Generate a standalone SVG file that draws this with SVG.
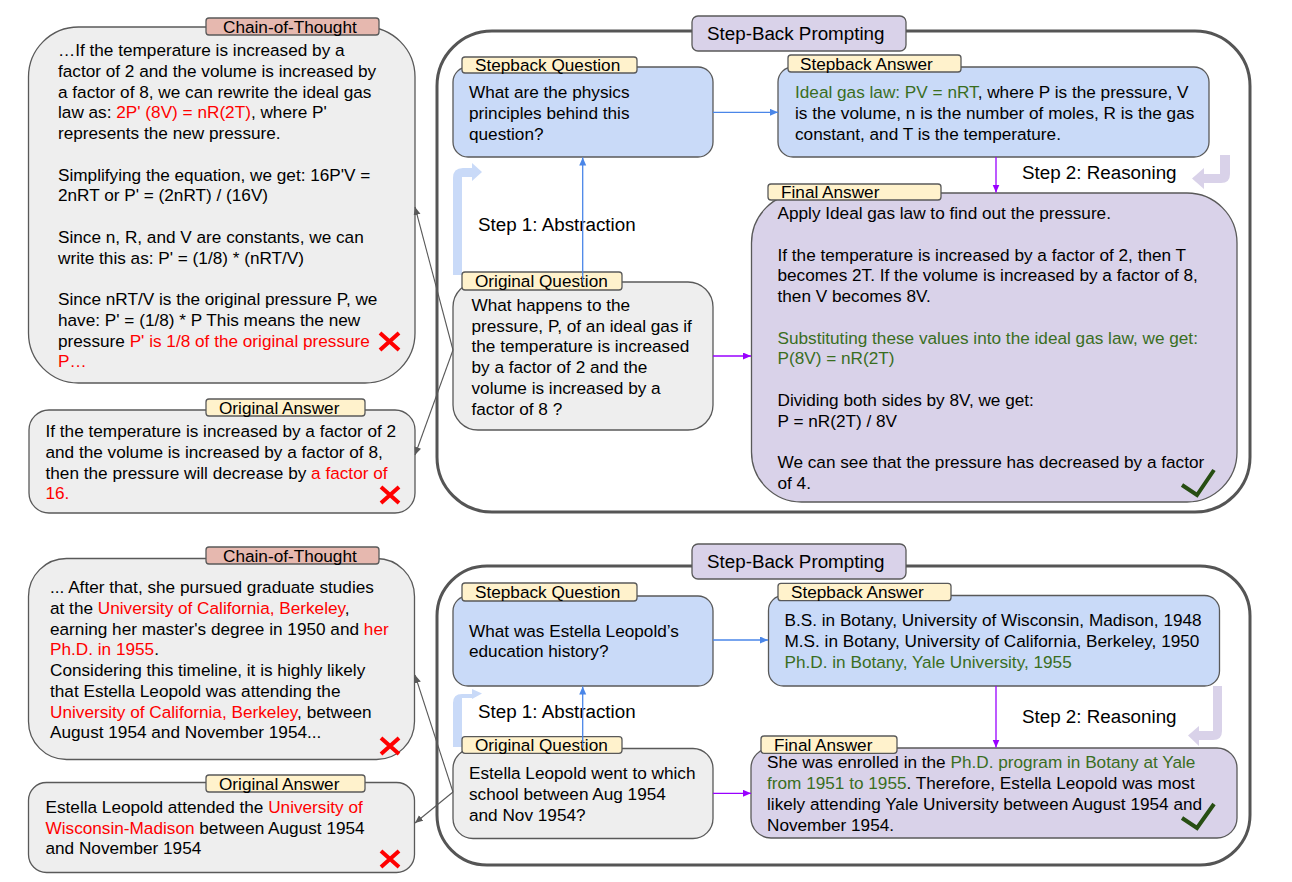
<svg xmlns="http://www.w3.org/2000/svg" width="1292" height="882" viewBox="0 0 1292 882">
<defs>
<style>
text{font-family:"Liberation Sans",Arial,sans-serif;font-size:17.2px;fill:#000}
.big{font-size:18.8px}
.r{fill:#ff0000}
.g{fill:#3a6e1f}
.grey{fill:#eeeeee;stroke:#595959;stroke-width:1.3}
.blue{fill:#c9daf8;stroke:#595959;stroke-width:1.3}
.purp{fill:#d9d2e9;stroke:#595959;stroke-width:1.3}
.lab{fill:#fff2cc;stroke:#595959;stroke-width:1.3}
.cotlab{fill:#e6b8af;stroke:#595959;stroke-width:1.3}
.outer{fill:#ffffff;stroke:#555555;stroke-width:3}
.xm{stroke:#ff0000;stroke-width:4;fill:none}
.ck{stroke:#274e13;stroke-width:4;fill:none}
.cb{stroke:#4a86e8;stroke-width:1.3;fill:none}
.cp{stroke:#9900ff;stroke-width:1.3;fill:none}
.cg{stroke:#595959;stroke-width:1.1;fill:none}
</style>
<marker id="mb" markerUnits="userSpaceOnUse" markerWidth="9" markerHeight="8" refX="8" refY="3.5" orient="auto"><path d="M0,0 L8,3.5 L0,7 z" fill="#4a86e8"/></marker>
<marker id="mp" markerUnits="userSpaceOnUse" markerWidth="9" markerHeight="8" refX="8" refY="3.5" orient="auto"><path d="M0,0 L8,3.5 L0,7 z" fill="#9900ff"/></marker>
<marker id="mg" markerUnits="userSpaceOnUse" markerWidth="9" markerHeight="8" refX="8" refY="3.5" orient="auto"><path d="M0,0 L8,3.5 L0,7 z" fill="#595959"/></marker>
</defs>
<rect width="1292" height="882" fill="#ffffff"/>

<!-- ===== TOP ===== -->
<g id="sbp-top">
<rect class="outer" x="437" y="31" width="813" height="481" rx="55"/>
<rect class="purp" x="692" y="16" width="214" height="35" rx="6"/>
<text class="big" x="707" y="40">Step-Back Prompting</text>
</g>

<g id="cot-top">
<rect class="grey" x="28.5" y="27" width="386.5" height="356" rx="50"/>
<rect class="cotlab" x="206" y="18" width="173" height="17" rx="3"/>
<text x="223" y="32.5">Chain-of-Thought</text>
<text x="58" y="56">…If the temperature is increased by a</text>
<text x="58" y="76.75">factor of 2 and the volume is increased by</text>
<text x="58" y="97.5">a factor of 8, we can rewrite the ideal gas</text>
<text x="58" y="118.25">law as: <tspan class="r">2P' (8V) = nR(2T)</tspan>, where P'</text>
<text x="58" y="139">represents the new pressure.</text>
<text x="58" y="180.5">Simplifying the equation, we get: 16P'V =</text>
<text x="58" y="201.25">2nRT or P' = (2nRT) / (16V)</text>
<text x="58" y="242.75">Since n, R, and V are constants, we can</text>
<text x="58" y="263.5">write this as: P' = (1/8) * (nRT/V)</text>
<text x="58" y="305">Since nRT/V is the original pressure P, we</text>
<text x="58" y="325.75">have: P' = (1/8) * P This means the new</text>
<text x="58" y="346.5">pressure <tspan class="r">P' is 1/8 of the original pressure</tspan></text>
<text x="58" y="367.25" class="r">P…</text>
<path class="xm" d="M380,333 L399,350 M399,333 L380,350"/>
</g>

<g id="oa-top">
<rect class="grey" x="29" y="410" width="386" height="103" rx="20"/>
<rect class="lab" x="206" y="399" width="159" height="17" rx="3"/>
<text x="219" y="413.5">Original Answer</text>
<text x="45.5" y="437">If the temperature is increased by a factor of 2</text>
<text x="45.5" y="457.75">and the volume is increased by a factor of 8,</text>
<text x="45.5" y="478.5">then the pressure will decrease by <tspan class="r">a factor of</tspan></text>
<text x="45.5" y="499.25" class="r">16.</text>
<path class="xm" d="M381,487 L399,503 M399,487 L381,503"/>
</g>

<g id="bent-top">
<path fill="#c9daf8" d="M453,275 L453,178 Q453,168 463,168 L472,168 L472,163 L482,172 L472,181 L472,177 L462,177 L462,275 Z"/>
<path fill="#d9d2e9" d="M1220,155 L1230,155 L1230,174 Q1230,183 1221,183 L1204,183 L1204,189 L1192,178.5 L1204,168 L1204,174 L1220,174 Z"/>
</g>

<g id="sq-top">
<rect class="blue" x="453" y="67" width="260" height="90" rx="15"/>
<rect class="lab" x="462" y="57" width="175" height="16" rx="3"/>
<text x="475" y="70.5">Stepback Question</text>
<text x="469" y="98">What are the physics</text>
<text x="469" y="118.75">principles behind this</text>
<text x="469" y="139.5">question?</text>
</g>

<g id="sa-top">
<rect class="blue" x="778" y="67" width="431" height="90" rx="15"/>
<rect class="lab" x="788" y="55" width="173" height="17" rx="3"/>
<text x="800" y="69.5">Stepback Answer</text>
<text x="795" y="98"><tspan class="g">Ideal gas law: PV = nRT</tspan>, where P is the pressure, V</text>
<text x="795" y="118.75">is the volume, n is the number of moles, R is the gas</text>
<text x="795" y="139.5">constant, and T is the temperature.</text>
</g>

<g id="fa-top">
<rect class="purp" x="751.5" y="193" width="485.5" height="309" rx="50"/>
<rect class="lab" x="768" y="184" width="173" height="16" rx="3"/>
<text x="781" y="197.5">Final Answer</text>
<text x="777.5" y="219">Apply Ideal gas law to find out the pressure.</text>
<text x="777.5" y="260.5">If the temperature is increased by a factor of 2, then T</text>
<text x="777.5" y="281.25">becomes 2T. If the volume is increased by a factor of 8,</text>
<text x="777.5" y="302">then V becomes 8V.</text>
<text x="777.5" y="343.5" class="g">Substituting these values into the ideal gas law, we get:</text>
<text x="777.5" y="364.25" class="g">P(8V) = nR(2T)</text>
<text x="777.5" y="405.75">Dividing both sides by 8V, we get:</text>
<text x="777.5" y="426.5">P = nR(2T) / 8V</text>
<text x="777.5" y="468">We can see that the pressure has decreased by a factor</text>
<text x="777.5" y="488.75">of 4.</text>
<path class="ck" d="M1182,485 L1197,495 L1214,470"/>
</g>

<g id="oq-top">
<rect class="grey" x="453" y="282" width="260" height="148" rx="25"/>
<rect class="lab" x="462" y="272" width="160" height="18" rx="3"/>
<text x="475" y="287">Original Question</text>
<text x="471.5" y="310.75">What happens to the</text>
<text x="471.5" y="331.5">pressure, P, of an ideal gas if</text>
<text x="471.5" y="352.25">the temperature is increased</text>
<text x="471.5" y="373">by a factor of 2 and the</text>
<text x="471.5" y="393.75">volume is increased by a</text>
<text x="471.5" y="414.5">factor of 8 ?</text>
</g>

<g id="steps-top">
<text class="big" x="478" y="230.7">Step 1: Abstraction</text>
<text class="big" x="1022" y="179">Step 2: Reasoning</text>
</g>

<!-- ===== BOTTOM ===== -->
<g id="sbp-bottom">
<rect class="outer" x="437" y="566" width="813" height="299" rx="50"/>
<rect class="purp" x="692" y="544" width="214" height="35" rx="6"/>
<text class="big" x="707" y="568.3">Step-Back Prompting</text>
</g>

<g id="cot-bottom">
<rect class="grey" x="28.5" y="558.5" width="386" height="201" rx="38"/>
<rect class="cotlab" x="206" y="547" width="173" height="17" rx="3"/>
<text x="223" y="561.5">Chain-of-Thought</text>
<text x="50" y="593.3">... After that, she pursued graduate studies</text>
<text x="50" y="614">at the <tspan class="r">University of California, Berkeley</tspan>,</text>
<text x="50" y="634.7">earning her master's degree in 1950 and <tspan class="r">her</tspan></text>
<text x="50" y="655.4"><tspan class="r">Ph.D. in 1955</tspan>.</text>
<text x="50" y="676.1">Considering this timeline, it is highly likely</text>
<text x="50" y="696.8">that Estella Leopold was attending the</text>
<text x="50" y="717.5"><tspan class="r">University of California, Berkeley</tspan>, between</text>
<text x="50" y="738.2">August 1954 and November 1954...</text>
<path class="xm" d="M381,738 L399,754 M399,738 L381,754"/>
</g>

<g id="oa-bottom">
<rect class="grey" x="28.5" y="782.5" width="386" height="90" rx="18"/>
<rect class="lab" x="206" y="775" width="159" height="17" rx="3"/>
<text x="219" y="789.5">Original Answer</text>
<text x="45.5" y="813.3">Estella Leopold attended the <tspan class="r">University of</tspan></text>
<text x="45.5" y="833.8"><tspan class="r">Wisconsin-Madison</tspan> between August 1954</text>
<text x="45.5" y="854.3">and November 1954</text>
<path class="xm" d="M381,851 L399,867 M399,851 L381,867"/>
</g>

<g id="bent-bottom">
<path fill="#c9daf8" d="M453,747 L453,703 Q453,694 462,694 L472,694 L472,689 L482,693.5 L472,699 L472,698 L462,698 L462,747 Z"/>
<path fill="#d9d2e9" d="M1213,686 L1222,686 L1222,731 Q1222,740 1213,740 L1199,740 L1199,746 L1188,735.5 L1199,726 L1199,731 L1213,731 Z"/>
</g>

<g id="sq-bottom">
<rect class="blue" x="453" y="596" width="260" height="90" rx="15"/>
<rect class="lab" x="462" y="583" width="175" height="18" rx="3"/>
<text x="475" y="598">Stepback Question</text>
<text x="469" y="636.7">What was Estella Leopold’s</text>
<text x="469" y="657.4">education history?</text>
</g>

<g id="sa-bottom">
<rect class="blue" x="768.5" y="595.5" width="451" height="90.5" rx="15"/>
<rect class="lab" x="778" y="583.3" width="173" height="17.4" rx="3"/>
<text x="791" y="598">Stepback Answer</text>
<text x="784.5" y="626">B.S. in Botany, University of Wisconsin, Madison, 1948</text>
<text x="784.5" y="647">M.S. in Botany, University of California, Berkeley, 1950</text>
<text x="784.5" y="668" class="g">Ph.D. in Botany, Yale University, 1955</text>
</g>

<g id="fa-bottom">
<rect class="purp" x="751" y="748" width="486" height="90" rx="20"/>
<rect class="lab" x="761" y="736" width="136" height="17.3" rx="3"/>
<text x="774" y="750.5">Final Answer</text>
<text x="767" y="768.3">She was enrolled in the <tspan class="g">Ph.D. program in Botany at Yale</tspan></text>
<text x="767" y="789.2"><tspan class="g">from 1951 to 1955</tspan>. Therefore, Estella Leopold was most</text>
<text x="767" y="810.1">likely attending Yale University between August 1954 and</text>
<text x="767" y="831">November 1954.</text>
<path class="ck" d="M1182,818 L1197,828 L1214,804"/>
</g>

<g id="oq-bottom">
<rect class="grey" x="453" y="748.5" width="260" height="90" rx="20"/>
<rect class="lab" x="462" y="736.7" width="160" height="16.6" rx="3"/>
<text x="475" y="751">Original Question</text>
<text x="469" y="779.3">Estella Leopold went to which</text>
<text x="469" y="800">school between Aug 1954</text>
<text x="469" y="820.7">and Nov 1954?</text>
</g>

<g id="steps-bottom">
<text class="big" x="478" y="718.3">Step 1: Abstraction</text>
<text class="big" x="1022" y="723.3">Step 2: Reasoning</text>
</g>

<g id="connectors">
<line class="cb" x1="713" y1="112.3" x2="778" y2="112.3" marker-end="url(#mb)"/>
<line class="cb" x1="582.7" y1="282" x2="582.7" y2="157.5" marker-end="url(#mb)"/>
<line class="cp" x1="996" y1="157" x2="996" y2="192.5" marker-end="url(#mp)"/>
<line class="cp" x1="713" y1="356" x2="751" y2="356" marker-end="url(#mp)"/>
<line class="cg" x1="453" y1="350" x2="415" y2="207" marker-end="url(#mg)"/>
<line class="cg" x1="453" y1="350" x2="415" y2="455" marker-end="url(#mg)"/>

<line class="cb" x1="713" y1="640" x2="768" y2="640" marker-end="url(#mb)"/>
<line class="cb" x1="582.7" y1="748" x2="582.7" y2="686.5" marker-end="url(#mb)"/>
<line class="cp" x1="996" y1="686" x2="996" y2="747.5" marker-end="url(#mp)"/>
<line class="cp" x1="713" y1="793.3" x2="751" y2="793.3" marker-end="url(#mp)"/>
<line class="cg" x1="453" y1="792" x2="415" y2="675" marker-end="url(#mg)"/>
<line class="cg" x1="453" y1="792" x2="415" y2="823" marker-end="url(#mg)"/>
</g>
</svg>
